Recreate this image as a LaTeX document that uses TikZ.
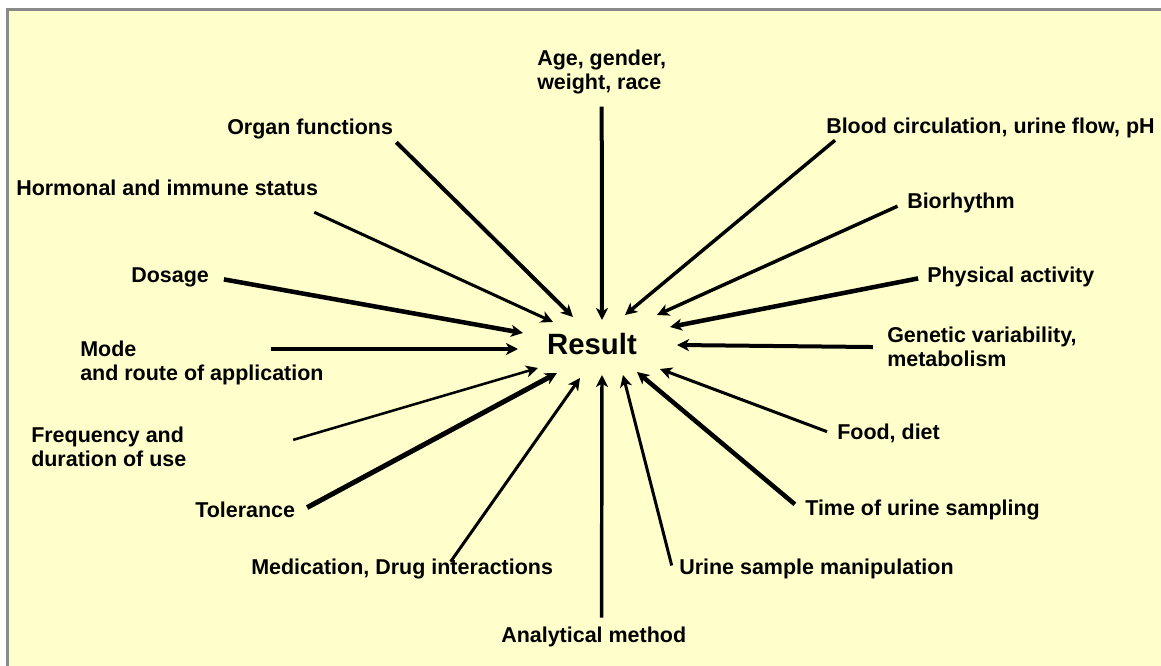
\documentclass[tikz,border=0pt]{standalone}
\usepackage{fontspec}
\setmainfont{Liberation Sans}
\usetikzlibrary{arrows.meta}
\definecolor{paper}{HTML}{FFFFCC}
\definecolor{frame}{HTML}{8A8A8A}

\begin{document}
\begin{tikzpicture}[
    x=0.75pt, y=-0.75pt,
    factor/.style={
      font=\fontsize{16.1}{18}\selectfont\bfseries,
      inner sep=2.25pt,
      text height=11.25pt,
      text depth=3.4pt,
      anchor=base west
    },
    twoline/.style={
      font=\fontsize{16.1}{18}\selectfont\bfseries,
      inner sep=2.25pt,
      align=left,
      anchor=north west
    },
    link/.style={-{Stealth[length=9pt,width=9pt,inset=2.5pt]}, line width=3pt},
    slimlink/.style={link, line width=1.9pt},
    thinlink/.style={link, line width=2.25pt},
    midlink/.style={link, line width=2.6pt},
    heavylink/.style={link, line width=3.4pt}
]

\useasboundingbox (0,0) rectangle (1161,666);
\fill[white] (0,0) rectangle (1161,666);
\fill[paper] (7.5,10) rectangle (1161,666);
\draw[frame, line width=2.25pt] (7.5,666) -- (7.5,10) -- (1161,10);

\node[font=\fontsize{22}{26}\selectfont\bfseries] (res) at (592,344) {Result};

\node[twoline] (age) at (534,46.5) {Age, gender,\\weight, race};
\node[factor] (organ) at (224,134.5) {Organ functions};
\node[factor] (hormone) at (13,195.5) {Hormonal and immune status};
\node[factor] (dosage) at (128,282.5) {Dosage};
\node[twoline] (mode) at (77,338) {Mode\\and route of application};
\node[twoline] (freq) at (28,424) {Frequency and\\duration of use};
\node[factor] (toler) at (192,517.5) {Tolerance};
\node[factor] (medic) at (248,574.5) {Medication, Drug interactions};
\node[factor] (method) at (498,642.5) {Analytical method};
\node[factor] (manip) at (676,574.5) {Urine sample manipulation};
\node[factor] (sampling) at (802,515.5) {Time of urine sampling};
\node[factor] (food) at (834,439.5) {Food, diet};
\node[twoline] (genetic) at (884,324) {Genetic variability,\\metabolism};
\node[factor] (activity) at (924,282.5) {Physical activity};
\node[factor] (rhythm) at (904,208.5) {Biorhythm};
\node[factor] (blood) at (823,133.5) {Blood circulation, urine flow, pH};

\coordinate (ageend) at (602,320);
\coordinate (organend) at (573,317);
\coordinate (hormoneend) at (553,322);
\coordinate (dosageend) at (523,333);
\coordinate (modeend) at (518,349);
\coordinate (freqend) at (538,368);
\coordinate (tolerend) at (557,373);
\coordinate (medicend) at (580,378);
\coordinate (methodend) at (602,375);
\coordinate (manipend) at (623,375);
\coordinate (samplingend) at (637,372);
\coordinate (foodend) at (660,369);
\coordinate (geneticend) at (677,345);
\coordinate (activityend) at (670,327);
\coordinate (rhythmend) at (657,315);
\coordinate (bloodend) at (625,315);

\draw[link,shorten <=7.2pt] (age.south) -- (ageend);
\draw[link] (organ.south east) -- (organend);
\draw[thinlink] ([shift={(-7,9)}]hormone.south east) -- (hormoneend);
\draw[heavylink,shorten <=9pt] (dosage.east) -- (dosageend);
\draw[link,shorten <=-42pt] (mode.east |- modeend) -- (modeend);
\draw[slimlink,shorten <=81pt] (freq.south east) -- (freqend);
\draw[link,line width=3.75pt,shorten <=7.5pt] (toler.east) -- (tolerend);
\draw[thinlink,shorten <=-5pt] (medic.14.4) -- (medicend);
\draw[midlink,shorten <=4.9pt] (method.59) -- (methodend);
\draw[thinlink,shorten <=13pt] (manip.south west) -- (manipend);
\draw[heavylink,shorten <=7pt] (sampling.west) -- (samplingend);
\draw[thinlink,shorten <=5.6pt] (food.west) -- (foodend);
\draw[link,shorten <=8.3pt] (genetic.west) -- (geneticend);
\draw[heavylink,shorten <=4.5pt] (activity.west) -- (activityend);
\draw[midlink,shorten <=5.3pt] (rhythm.west) -- (rhythmend);
\draw[midlink] ([shift={(12,-1)}]blood.south west) -- (bloodend);

\end{tikzpicture}
\end{document}
